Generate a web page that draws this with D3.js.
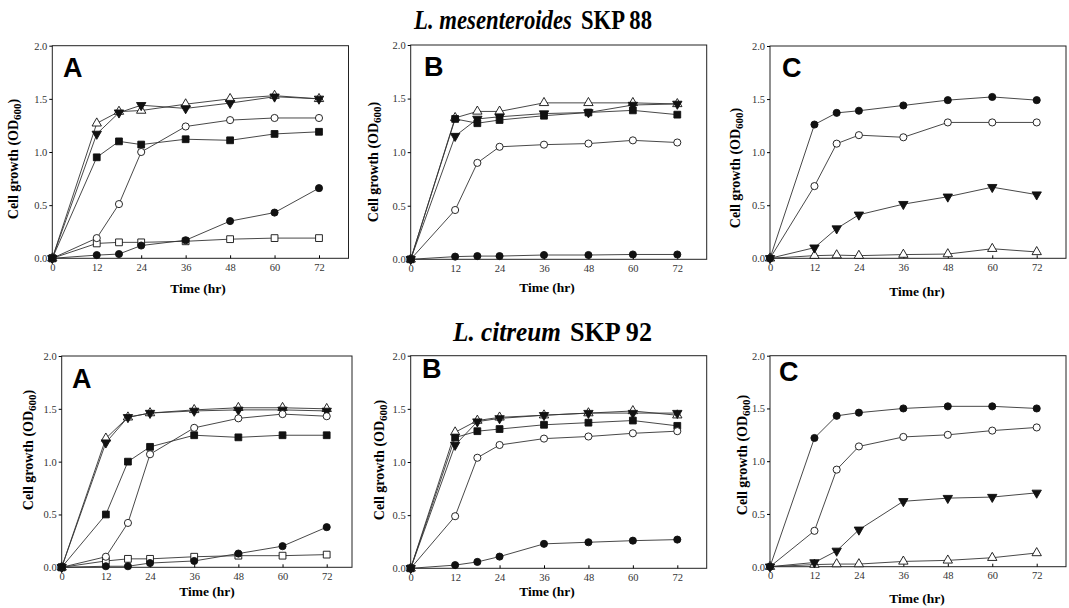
<!DOCTYPE html>
<html>
<head>
<meta charset="utf-8">
<script src="https://cdn.jsdelivr.net/npm/d3@7"></script>
<style>
  body { margin: 0; background: #fff; }
  svg text { font-family: "Liberation Serif", "Times New Roman", serif; }
</style>
</head>
<body>
<div id="fig"></div>
<script>
// sampling times (hr) and axis ticks
var hours = [0, 12, 18, 24, 36, 48, 60, 72];
var xTicks = [0, 12, 24, 36, 48, 60, 72];
var yTicks = [0, 0.5, 1.0, 1.5, 2.0];

// L. mesenteroides SKP 88, panel A
var m88A_fCircle = [0, 0.03, 0.04, 0.12, 0.17, 0.35, 0.43, 0.66];
var m88A_oCircle = [0, 0.19, 0.51, 1.00, 1.24, 1.30, 1.32, 1.32];
var m88A_fTri    = [0, 1.17, 1.37, 1.44, 1.41, 1.46, 1.52, 1.50];
var m88A_oTri    = [0, 1.27, 1.38, 1.39, 1.45, 1.50, 1.53, 1.50];
var m88A_fSquare = [0, 0.95, 1.10, 1.07, 1.12, 1.11, 1.17, 1.19];
var m88A_oSquare = [0, 0.14, 0.15, 0.15, 0.16, 0.18, 0.19, 0.19];
// panel B
var m88B_fCircle = [0, 0.025, 0.03, 0.03, 0.04, 0.04, 0.045, 0.045];
var m88B_oCircle = [0, 0.46, 0.90, 1.05, 1.07, 1.08, 1.11, 1.09];
var m88B_fTri    = [0, 1.15, 1.31, 1.33, 1.36, 1.37, 1.44, 1.45];
var m88B_oTri    = [0, 1.32, 1.38, 1.38, 1.46, 1.46, 1.46, 1.45];
var m88B_fSquare = [0, 1.31, 1.27, 1.30, 1.34, 1.37, 1.39, 1.35];
// panel C
var m88C_fCircle = [0, 1.26, 1.37, 1.39, 1.44, 1.49, 1.52, 1.49];
var m88C_oCircle = [0, 0.68, 1.08, 1.16, 1.14, 1.28, 1.28, 1.28];
var m88C_fTri    = [0, 0.10, 0.28, 0.41, 0.51, 0.58, 0.67, 0.60];
var m88C_oTri    = [0, 0.025, 0.03, 0.025, 0.035, 0.04, 0.09, 0.06];

// L. citreum SKP 92, panel A
var c92A_fCircle = [0, 0.01, 0.01, 0.04, 0.06, 0.13, 0.20, 0.38];
var c92A_oCircle = [0, 0.10, 0.42, 1.07, 1.32, 1.41, 1.45, 1.43];
var c92A_fTri    = [0, 1.18, 1.42, 1.46, 1.48, 1.49, 1.49, 1.48];
var c92A_oTri    = [0, 1.22, 1.42, 1.46, 1.49, 1.51, 1.51, 1.50];
var c92A_fSquare = [0, 0.50, 1.00, 1.14, 1.25, 1.23, 1.25, 1.25];
var c92A_oSquare = [0, 0.06, 0.08, 0.08, 0.10, 0.11, 0.11, 0.12];
// panel B
var c92B_fCircle = [0, 0.03, 0.06, 0.11, 0.23, 0.245, 0.26, 0.27];
var c92B_oCircle = [0, 0.49, 1.04, 1.16, 1.22, 1.24, 1.27, 1.29];
var c92B_fTri    = [0, 1.16, 1.38, 1.41, 1.44, 1.46, 1.46, 1.46];
var c92B_oTri    = [0, 1.28, 1.39, 1.42, 1.44, 1.46, 1.48, 1.44];
var c92B_fSquare = [0, 1.23, 1.29, 1.31, 1.35, 1.37, 1.39, 1.34];
// panel C
var c92C_fCircle = [0, 1.22, 1.43, 1.46, 1.50, 1.52, 1.52, 1.50];
var c92C_oCircle = [0, 0.34, 0.92, 1.14, 1.23, 1.25, 1.29, 1.32];
var c92C_fTri    = [0, 0.04, 0.15, 0.35, 0.62, 0.65, 0.66, 0.70];
var c92C_oTri    = [0, 0.02, 0.025, 0.025, 0.05, 0.06, 0.085, 0.13];

function six(fc, oc, ft, ot, fs, os) {
  var s = [
    {vals: ot, sym: "tri", fill: false},
    {vals: ft, sym: "itri", fill: true},
    {vals: os, sym: "square", fill: false},
    {vals: fs, sym: "square", fill: true},
    {vals: oc, sym: "circle", fill: false},
    {vals: fc, sym: "circle", fill: true}
  ];
  return s.filter(function(d) { return d.vals; });
}

var panels = [
  {x0: 52.3, x72: 319, right: 348.5, top: 45.7, bottom: 258.3, letter: "A", lx: 63, ly: 77,
   ylx: 18, yly: 159, xlx: 198, xly: 293,
   series: six(m88A_fCircle, m88A_oCircle, m88A_fTri, m88A_oTri, m88A_fSquare, m88A_oSquare)},
  {x0: 410.7, x72: 677.3, right: 706.7, top: 45, bottom: 259.3, letter: "B", lx: 424, ly: 76,
   ylx: 378, yly: 162, xlx: 547, xly: 292,
   series: six(m88B_fCircle, m88B_oCircle, m88B_fTri, m88B_oTri, m88B_fSquare, null)},
  {x0: 770, x72: 1036.7, right: 1066, top: 46, bottom: 258.3, letter: "C", lx: 782, ly: 77,
   ylx: 740, yly: 168, xlx: 917, xly: 296,
   series: six(m88C_fCircle, m88C_oCircle, m88C_fTri, m88C_oTri, null, null)},
  {x0: 61.7, x72: 326.7, right: 352, top: 356, bottom: 567.3, letter: "A", lx: 72, ly: 388,
   ylx: 33, yly: 450, xlx: 207, xly: 596,
   series: six(c92A_fCircle, c92A_oCircle, c92A_fTri, c92A_oTri, c92A_fSquare, c92A_oSquare)},
  {x0: 410.7, x72: 677.3, right: 706.7, top: 355.7, bottom: 568.3, letter: "B", lx: 422, ly: 378,
   ylx: 384, yly: 460, xlx: 547, xly: 596,
   series: six(c92B_fCircle, c92B_oCircle, c92B_fTri, c92B_oTri, c92B_fSquare, null)},
  {x0: 770, x72: 1036.7, right: 1066, top: 355.7, bottom: 566.7, letter: "C", lx: 779, ly: 381,
   ylx: 747, yly: 455, xlx: 917, xly: 603,
   series: six(c92C_fCircle, c92C_oCircle, c92C_fTri, c92C_oTri, null, null)}
];

var svg = d3.select("#fig").append("svg")
    .attr("width", 1069)
    .attr("height", 608);

// condensed bold text: measure natural width, then squeeze horizontally
function condensed(x, y, txt, width, italic) {
  var t = svg.append("text")
    .attr("font-size", 27)
    .attr("font-weight", "bold")
    .attr("font-style", italic ? "italic" : "normal")
    .text(txt);
  var w = t.node().getComputedTextLength();
  t.attr("transform", "translate(" + x + "," + y + ") scale(" + (width / w) + ",1)");
}
condensed(414, 29, "L. mesenteroides", 158, true);
condensed(581, 29, "SKP 88", 71, false);
condensed(453, 341, "L. citreum", 108, true);
condensed(570, 341, "SKP 92", 82, false);

var symbols = {
  circle: d3.symbol().type(d3.symbolCircle).size(40),
  square: d3.symbol().type(d3.symbolSquare).size(46),
  tri: d3.symbol().type(d3.symbolTriangle).size(38),
  itri: d3.symbol().type(d3.symbolTriangle).size(38)
};

panels.forEach(function(p) {
  var x = d3.scaleLinear().domain([0, 72]).range([p.x0, p.x72]);
  var y = d3.scaleLinear().domain([0, 2]).range([p.bottom, p.top]);
  var g = svg.append("g");

  // frame
  g.append("rect")
    .attr("x", p.x0).attr("y", p.top)
    .attr("width", p.right - p.x0).attr("height", p.bottom - p.top)
    .attr("fill", "none").attr("stroke", "#222").attr("stroke-width", 1);

  // y axis, ticks outward
  var ya = g.append("g")
    .attr("transform", "translate(" + p.x0 + ",0)")
    .call(d3.axisLeft(y).tickValues(yTicks).tickFormat(d3.format(".1f")).tickSize(3).tickPadding(2));
  ya.select(".domain").remove();
  ya.selectAll("text").attr("font-size", 10.5).attr("fill", "#333")
    .style("font-family", "'Liberation Serif', serif");

  // x axis, ticks inward
  var xa = g.append("g")
    .attr("transform", "translate(0," + p.bottom + ")")
    .call(d3.axisBottom(x).tickValues(xTicks).tickSizeInner(-3).tickSizeOuter(0).tickPadding(5));
  xa.select(".domain").remove();
  xa.selectAll("text").attr("font-size", 10.5).attr("fill", "#333")
    .style("font-family", "'Liberation Serif', serif");

  // axis titles
  var yl = g.append("text")
    .attr("transform", "translate(" + p.ylx + "," + p.yly + ") rotate(-90)")
    .attr("text-anchor", "middle")
    .attr("font-size", 14)
    .attr("font-weight", "bold");
  yl.append("tspan").text("Cell growth (OD");
  yl.append("tspan").attr("font-size", 11).attr("dy", 3).text("600");
  yl.append("tspan").attr("dy", -3).text(")");

  g.append("text")
    .attr("x", p.xlx).attr("y", p.xly)
    .attr("text-anchor", "middle")
    .attr("font-size", 13.5)
    .attr("font-weight", "bold")
    .text("Time (hr)");

  // panel letter
  g.append("text")
    .attr("x", p.lx).attr("y", p.ly)
    .attr("font-size", 27)
    .attr("font-weight", "bold")
    .style("font-family", "'Liberation Sans', Arial, sans-serif")
    .text(p.letter);

  var line = d3.line()
    .x(function(d, i) { return x(hours[i]); })
    .y(function(d) { return y(d); });

  p.series.forEach(function(s) {
    g.append("path")
      .datum(s.vals)
      .attr("d", line)
      .attr("fill", "none")
      .attr("stroke", "#333")
      .attr("stroke-width", 0.9);
  });

  p.series.forEach(function(s) {
    g.selectAll(null)
      .data(s.vals)
      .enter()
      .append("path")
      .attr("d", symbols[s.sym])
      .attr("transform", function(d, i) {
        var t = "translate(" + x(hours[i]) + "," + y(d) + ")";
        return s.sym === "itri" ? t + " rotate(180)" : t;
      })
      .attr("fill", s.fill ? "#111" : "#fff")
      .attr("stroke", "#111")
      .attr("stroke-width", 0.9);
  });
});
</script>
</body>
</html>
